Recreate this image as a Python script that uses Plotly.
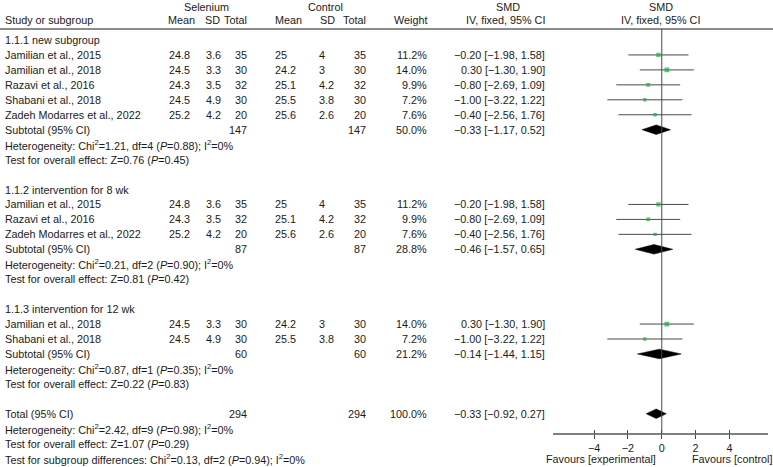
import plotly.graph_objects as go

# ---------------- data ----------------
study_names = ["Jamilian et al., 2015", "Jamilian et al., 2018", "Razavi et al., 2016",
               "Shabani et al., 2018", "Zadeh Modarres et al., 2022"]
sel_mean = [24.8, 24.5, 24.3, 24.5, 25.2]
sel_sd = [3.6, 3.3, 3.5, 4.9, 4.2]
sel_n = [35, 30, 32, 30, 20]
ctl_mean = [25, 24.2, 25.1, 25.5, 25.6]
ctl_sd = [4, 3, 4.2, 3.8, 2.6]
ctl_n = [35, 30, 32, 30, 20]
weights = [11.2, 14.0, 9.9, 7.2, 7.6]
smd = [-0.20, 0.30, -0.80, -1.00, -0.40]
ci_lo = [-1.98, -1.30, -2.69, -3.22, -2.56]
ci_hi = [1.58, 1.90, 1.09, 1.22, 1.76]

group_titles = ["1.1.1 new subgroup", "1.1.2 intervention for 8 wk", "1.1.3 intervention for 12 wk"]
group_members = [[0, 1, 2, 3, 4], [0, 2, 4], [1, 3]]
sub_n_sel = [147, 87, 60]
sub_n_ctl = [147, 87, 60]
sub_weight = [50.0, 28.8, 21.2]
sub_smd = [-0.33, -0.46, -0.14]
sub_lo = [-1.17, -1.57, -1.44]
sub_hi = [0.52, 0.65, 1.15]
het_chi = ["1.21", "0.21", "0.87"]
het_df = [4, 2, 1]
het_p = ["0.88", "0.90", "0.35"]
het_i2 = [0, 0, 0]
z_val = ["0.76", "0.81", "0.22"]
z_p = ["0.45", "0.42", "0.83"]

total_n_sel = 294
total_n_ctl = 294
total_weight = 100.0
total_smd = -0.33
total_lo = -0.92
total_hi = 0.27
total_het = ("2.42", 9, "0.98", 0)
total_z = ("1.07", "0.29")
subgroup_diff = ("0.13", 2, "0.94", 0)

x_ticks = [-4, -2, 0, 2, 4]
x_tick_labels = ["\u22124", "\u22122", "0", "2", "4"]

# ---------------- layout helpers ----------------
W, H = 773, 467
FONT = "Liberation Sans, Arial, sans-serif"
FS = 10.8
TXT = "#1a1a1a"
STEP = 14.95
ROW0 = 40
header_line_y = 29
axis_y = 434

annotations = []


def px(x):
    return x / W


def row_y(i):
    return ROW0 + i * STEP


def text(x, y, s, anchor="left", size=FS):
    annotations.append(dict(x=px(x), y=y, xref="paper", yref="y", text=s,
                            showarrow=False, xanchor=anchor, yanchor="middle",
                            font=dict(family=FONT, size=size, color=TXT)))


def m(v):
    return "\u2212" + f"{abs(v):.2f}" if v < 0 else f"{v:.2f}"


def ci_text(e, lo, hi):
    return f"{m(e)} [{m(lo)}, {m(hi)}]"


def het_text(chi, df, p, i2):
    return (f"Heterogeneity: Chi<sup>2</sup>={chi}, df={df} (<i>P</i>={p}); "
            f"I<sup>2</sup>={i2}%")


COL = dict(name=3, smean=167, ssd=204, sn=249, cmean=273, csd=317, cn=368,
           wt=429, ci=547)

# headers
HY1, HY2 = 6.5, 19.5
text(206, HY1, "Selenium", "center")
text(325, HY1, "Control", "center")
text(508, HY1, "SMD", "center")
text(661, HY1, "SMD", "center")
text(COL["name"], HY2, "Study or subgroup")
text(166, HY2, "Mean")
text(203, HY2, "SD")
text(COL["sn"], HY2, "Total", "right")
text(273, HY2, "Mean")
text(337, HY2, "SD", "right")
text(COL["cn"], HY2, "Total", "right")
text(COL["wt"], HY2, "Weight", "right")
text(506, HY2, "IV, fixed, 95% CI", "center")
text(660, HY2, "IV, fixed, 95% CI", "center")

ci_x, ci_y = [], []
sq_x, sq_y, sq_s = [], [], []
diamonds = []

r = 0
for g in range(3):
    text(COL["name"], row_y(r), group_titles[g])
    r += 1
    for i in group_members[g]:
        y = row_y(r)
        text(COL["name"], y, study_names[i])
        text(COL["smean"], y, f"{sel_mean[i]:g}")
        text(COL["ssd"], y, f"{sel_sd[i]:g}")
        text(COL["sn"], y, f"{sel_n[i]}", "right")
        text(COL["cmean"], y, f"{ctl_mean[i]:g}")
        text(COL["csd"], y, f"{ctl_sd[i]:g}")
        text(COL["cn"], y, f"{ctl_n[i]}", "right")
        text(COL["wt"], y, f"{weights[i]:.1f}%", "right")
        text(COL["ci"], y, ci_text(smd[i], ci_lo[i], ci_hi[i]), "right")
        ci_x += [ci_lo[i], ci_hi[i], None]
        ci_y += [y, y, None]
        sq_x.append(smd[i]); sq_y.append(y); sq_s.append(1.25 * weights[i] ** 0.5)
        r += 1
    y = row_y(r)
    text(COL["name"], y, "Subtotal (95% CI)")
    text(COL["sn"], y, f"{sub_n_sel[g]}", "right")
    text(COL["cn"], y, f"{sub_n_ctl[g]}", "right")
    text(COL["wt"], y, f"{sub_weight[g]:.1f}%", "right")
    text(COL["ci"], y, ci_text(sub_smd[g], sub_lo[g], sub_hi[g]), "right")
    diamonds.append((sub_lo[g], sub_smd[g], sub_hi[g], y))
    r += 1
    text(COL["name"], row_y(r), het_text(het_chi[g], het_df[g], het_p[g], het_i2[g]))
    r += 1
    text(COL["name"], row_y(r), f"Test for overall effect: Z={z_val[g]} (<i>P</i>={z_p[g]})")
    r += 2  # blank line

y = row_y(r)
text(COL["name"], y, "Total (95% CI)")
text(COL["sn"], y, f"{total_n_sel}", "right")
text(COL["cn"], y, f"{total_n_ctl}", "right")
text(COL["wt"], y, f"{total_weight:.1f}%", "right")
text(COL["ci"], y, ci_text(total_smd, total_lo, total_hi), "right")
diamonds.append((total_lo, total_smd, total_hi, y))
r += 1
text(COL["name"], row_y(r), het_text(*total_het))
r += 1
text(COL["name"], row_y(r), f"Test for overall effect: Z={total_z[0]} (<i>P</i>={total_z[1]})")
r += 1
y = row_y(r)
text(COL["name"], y, "Test for subgroup differences: Chi<sup>2</sup>="
     f"{subgroup_diff[0]}, df={subgroup_diff[1]} (<i>P</i>={subgroup_diff[2]}); "
     f"I<sup>2</sup>={subgroup_diff[3]}%")
text(658, y, "Favours [experimental]", "right")
text(690, y, "Favours [control]", "left")

fig = go.Figure()
fig.add_trace(go.Scatter(x=ci_x, y=ci_y, mode="lines",
                         line=dict(color="#4a4a4a", width=1), hoverinfo="skip"))
fig.add_trace(go.Scatter(x=sq_x, y=sq_y, mode="markers",
                         marker=dict(symbol="square", size=sq_s, color="#15ad45",
                                     line=dict(width=0)), hoverinfo="skip"))
for lo, e, hi, yy in diamonds:
    h = 4.8
    fig.add_trace(go.Scatter(x=[lo, e, hi, e, lo], y=[yy, yy - h, yy, yy + h, yy],
                             mode="lines", fill="toself", fillcolor="black",
                             line=dict(color="black", width=0.5), hoverinfo="skip"))

shapes = [
    dict(type="line", xref="paper", yref="y", x0=0, x1=1, y0=header_line_y,
         y1=header_line_y, line=dict(color="#8c8c8c", width=2)),
    dict(type="line", xref="x", yref="y", x0=0, x1=0, y0=header_line_y, y1=axis_y,
         line=dict(color="#4a4a4a", width=1)),
]

xdom = [552.7 / W, 768.3 / W]
xrange = [-6.45, 6.3]
fig.update_layout(
    width=W, height=H, margin=dict(l=0, r=0, t=0, b=0),
    paper_bgcolor="white", plot_bgcolor="white", showlegend=False,
    hovermode=False,
    annotations=annotations, shapes=shapes,
    xaxis=dict(domain=xdom, range=xrange, anchor="free", position=1 - axis_y / H,
               showline=True, linecolor="#7f7f7f", linewidth=1.5,
               ticks="outside", ticklen=4, tickwidth=1, tickcolor="#4a4a4a",
               tickvals=x_ticks, ticktext=x_tick_labels,
               tickfont=dict(family=FONT, size=FS, color=TXT),
               showgrid=False, zeroline=False, fixedrange=True),
    xaxis2=dict(domain=xdom, range=xrange, anchor="free", position=1 - axis_y / H,
                overlaying="x", matches="x", showline=False, ticks="inside",
                ticklen=4, tickwidth=1, tickcolor="#4a4a4a", tickvals=x_ticks,
                showticklabels=False, showgrid=False, zeroline=False),
    yaxis=dict(domain=[0, 1], range=[H, 0], visible=False, showgrid=False,
               zeroline=False, fixedrange=True),
)
# invisible trace so the upward tick marks (xaxis2) are drawn
fig.add_trace(go.Scatter(x=[0], y=[axis_y], xaxis="x2", mode="markers",
                         marker=dict(opacity=0), hoverinfo="skip"))
fig.write_html("out.html", config={"displayModeBar": False},
               post_script="document.body.style.margin='0';"
                           "document.body.style.overflow='hidden';")
